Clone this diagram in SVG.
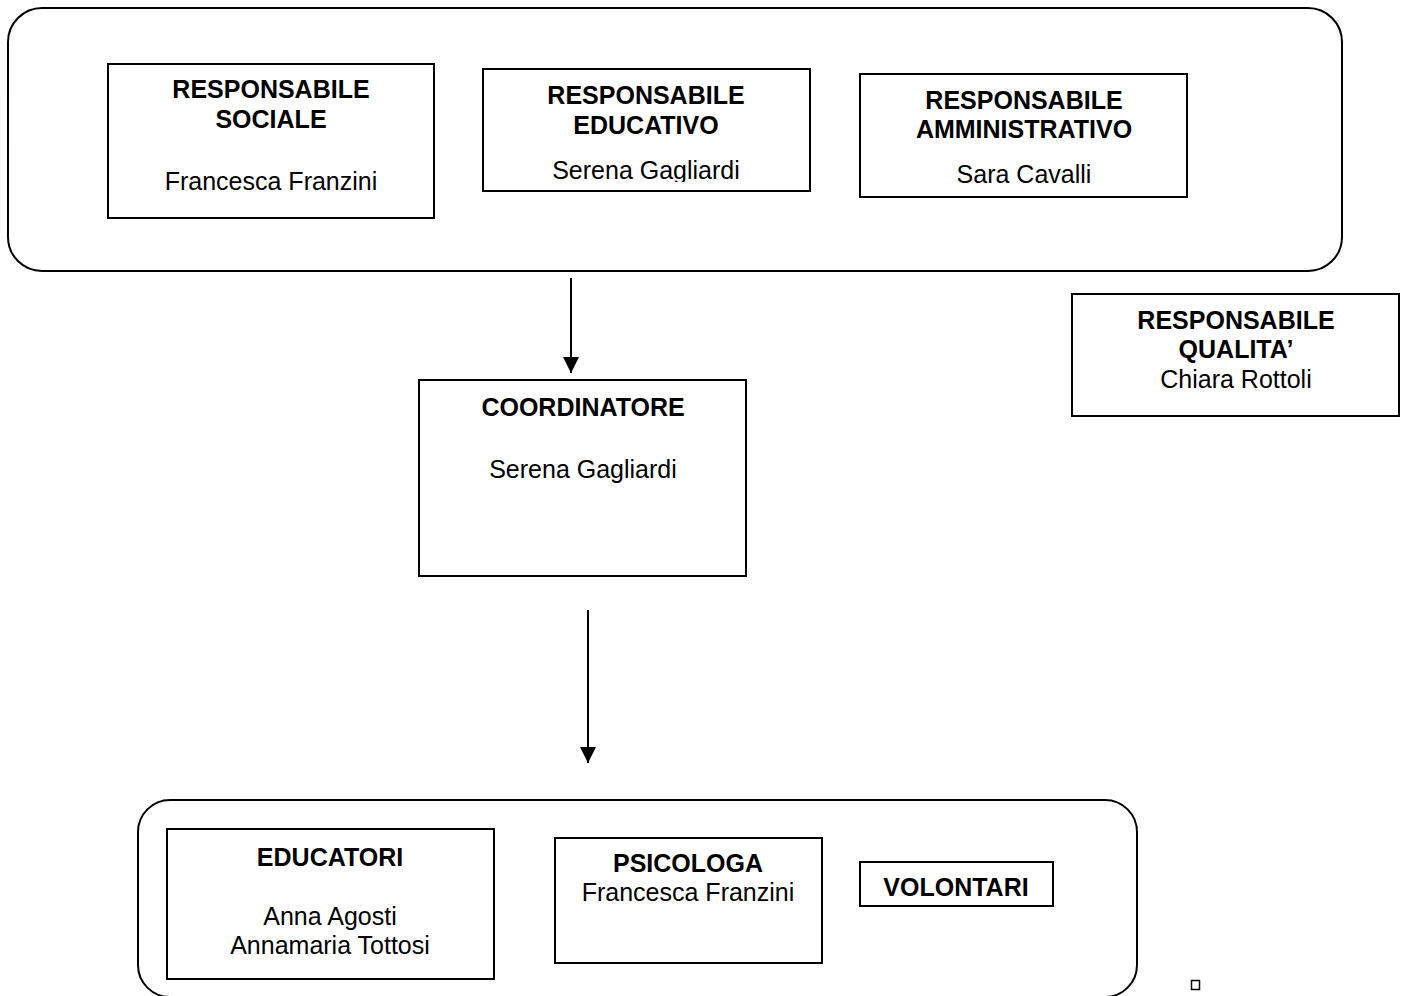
<svg xmlns="http://www.w3.org/2000/svg" width="1408" height="996" viewBox="0 0 1408 996">
  <style>
    .frame { fill: none; stroke: #000; stroke-width: 2; }
    .box { fill: #fff; stroke: #000; stroke-width: 2; }
    .link { stroke: #000; stroke-width: 2; fill: none; }
    text { font-family: "Liberation Sans", Arial, sans-serif; font-size: 25px; fill: #000; text-anchor: middle; }
    .title { font-weight: bold; }
  </style>
  <defs>
    <marker id="arrow" viewBox="0 0 16 16" refX="16" refY="8" markerWidth="16" markerHeight="16" markerUnits="userSpaceOnUse" orient="auto">
      <path d="M0,0 L16,8 L0,16 Z" fill="#000"/>
    </marker>
    <clipPath id="clip-educativo">
      <rect x="484" y="70" width="325" height="112"/>
    </clipPath>
  </defs>
  <rect width="1408" height="996" fill="#fff"/>

  <!-- management group frame -->
  <rect id="frame-direzione" class="frame" x="8" y="8" width="1334" height="263" rx="34" ry="34"/>
  <!-- operational staff frame -->
  <rect id="frame-staff" class="frame" x="138" y="800" width="999" height="197" rx="32" ry="32"/>

  <g id="responsabile-sociale">
    <rect class="box" x="108" y="64" width="326" height="154"/>
    <text class="title" x="271" y="98">RESPONSABILE</text>
    <text class="title" x="271" y="128">SOCIALE</text>
    <text x="271" y="190">Francesca Franzini</text>
  </g>

  <g id="responsabile-educativo">
    <rect class="box" x="483" y="69" width="327" height="122"/>
    <g clip-path="url(#clip-educativo)">
      <text class="title" x="646" y="104">RESPONSABILE</text>
      <text class="title" x="646" y="134">EDUCATIVO</text>
      <text x="646" y="179">Serena Gagliardi</text>
    </g>
  </g>

  <g id="responsabile-amministrativo">
    <rect class="box" x="860" y="74" width="327" height="123"/>
    <text class="title" x="1024" y="109">RESPONSABILE</text>
    <text class="title" x="1024" y="138">AMMINISTRATIVO</text>
    <text x="1024" y="183">Sara Cavalli</text>
  </g>

  <g id="responsabile-qualita">
    <rect class="box" x="1072" y="294" width="327" height="122"/>
    <text class="title" x="1236" y="329">RESPONSABILE</text>
    <text class="title" x="1236" y="358">QUALITA’</text>
    <text x="1236" y="388">Chiara Rottoli</text>
  </g>

  <g id="coordinatore">
    <rect class="box" x="419" y="380" width="327" height="196"/>
    <text class="title" x="583" y="416">COORDINATORE</text>
    <text x="583" y="478">Serena Gagliardi</text>
  </g>

  <g id="educatori">
    <rect class="box" x="167" y="829" width="327" height="150"/>
    <text class="title" x="330" y="866">EDUCATORI</text>
    <text x="330" y="925">Anna Agosti</text>
    <text x="330" y="954">Annamaria Tottosi</text>
  </g>

  <g id="psicologa">
    <rect class="box" x="555" y="838" width="267" height="125"/>
    <text class="title" x="688" y="872">PSICOLOGA</text>
    <text x="688" y="901">Francesca Franzini</text>
  </g>

  <g id="volontari">
    <rect class="box" x="860" y="862" width="193" height="44"/>
    <text class="title" x="956" y="896">VOLONTARI</text>
  </g>

  <g id="connectors">
    <line class="link" x1="571" y1="278" x2="571" y2="373" marker-end="url(#arrow)"/>
    <line class="link" x1="588" y1="610" x2="588" y2="763" marker-end="url(#arrow)"/>
  </g>

  <!-- small square mark -->
  <rect x="1191.5" y="980.5" width="8" height="9" fill="none" stroke="#000" stroke-width="1.5"/>
</svg>
